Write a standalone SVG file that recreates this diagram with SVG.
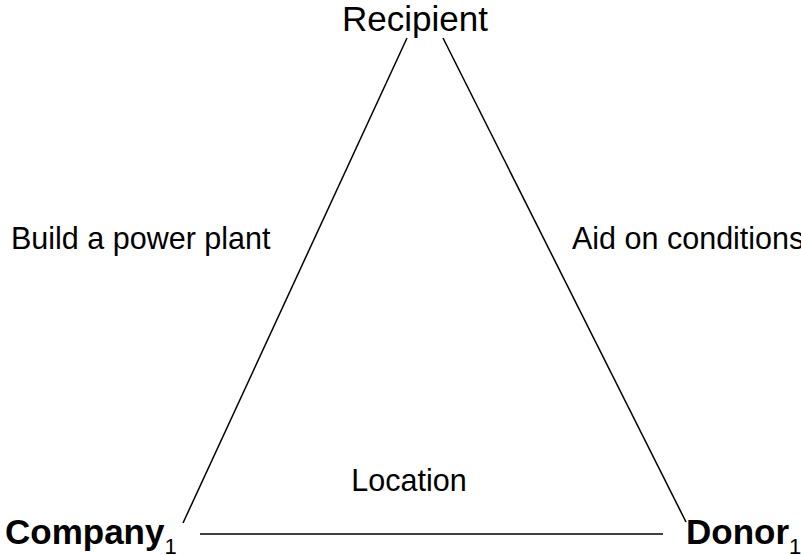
<svg xmlns="http://www.w3.org/2000/svg" width="801" height="555" viewBox="0 0 801 555">
<style>
text{font-family:"Liberation Sans",Arial,sans-serif;fill:#000}
.lbl{font-size:30.5px}
.node{font-size:35px;font-weight:bold}
.sub{font-size:22px;font-weight:normal}
.edge{stroke:#000;stroke-width:1.5;fill:none}
</style>
<rect width="801" height="555" fill="#fff"/>
<g id="connectors">
<line class="edge" x1="407" y1="38" x2="183" y2="523"/>
<line class="edge" x1="443" y1="38" x2="686" y2="522"/>
<line class="edge" x1="200" y1="534" x2="663" y2="534"/>
</g>
<g id="recipient"><text x="415" y="31" font-size="35" text-anchor="middle">Recipient</text></g>
<g id="company"><text class="node" x="5" y="544">Company<tspan class="sub" dy="10">1</tspan></text></g>
<g id="donor"><text class="node" x="686" y="544">Donor<tspan class="sub" dy="10">1</tspan></text></g>
<g id="label-build"><text class="lbl" x="11" y="249">Build a power plant</text></g>
<g id="label-aid"><text class="lbl" x="572" y="249">Aid on conditions</text></g>
<g id="label-location"><text class="lbl" x="409" y="491" text-anchor="middle">Location</text></g>
</svg>
